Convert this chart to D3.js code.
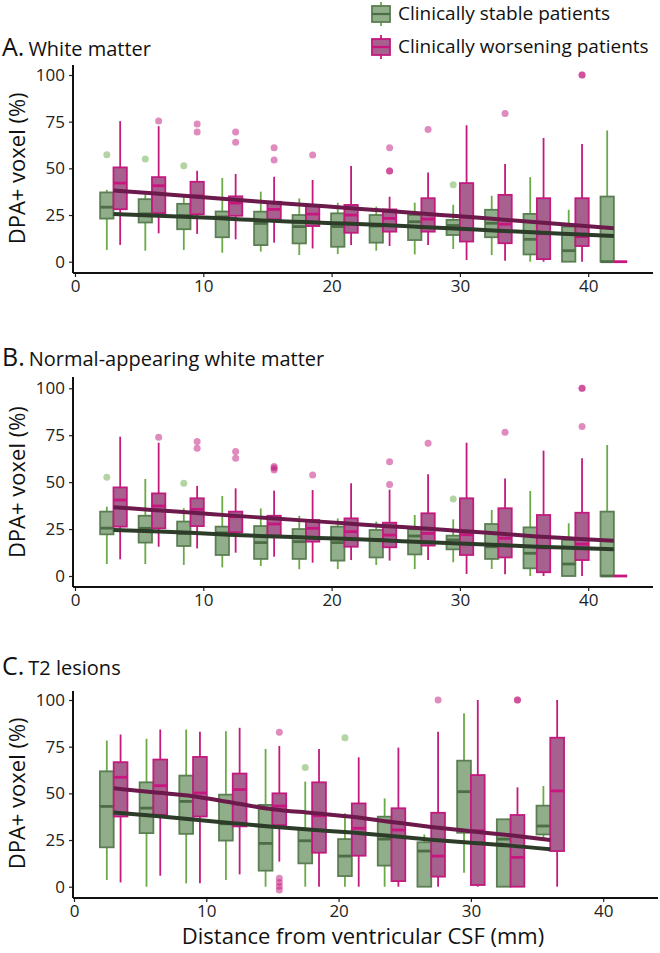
<!DOCTYPE html>
<html><head><meta charset="utf-8">
<script src="https://cdn.jsdelivr.net/npm/d3@7"></script>
<style>
body{margin:0;background:#fff}
svg{display:block;font-family:"Open Sans",sans-serif}
</style>
</head><body>
<svg id="chart" width="660" height="953"></svg>
<script>
// ---------------- DATA ----------------
const binsAB = [3,6,9,12,15,18,21,24,27,30,33,36,39,42];
const binsC  = [3,6,9,12,15,18,21,24,27,30,33,36];
const yTicks = [0,25,50,75,100];
const xTicks = [0,10,20,30,40];
const groupLabels = ["Clinically stable patients","Clinically worsening patients"];
const panelLetters = ["A.","B.","C."];
const panelTitles = ["White matter","Normal-appearing white matter","T2 lesions"];
const yTitle = "DPA+ voxel (%)";
const xTitle = "Distance from ventricular CSF (mm)";

// each entry: [lower whisker, Q1, median, Q3, upper whisker]
const wmStable = [
  [6.3,23.1,29.2,37.1,38.5],[5.9,21.0,25.6,33.5,36.0],[6.3,17.4,24.6,31.0,35.8],[4.8,13.1,24.0,26.9,44.8],
  [5.4,8.9,20.5,26.8,37.5],[3.6,9.8,18.8,25.0,33.9],[4.1,8.0,18.8,25.9,31.6],[5.9,10.2,19.1,25.0,29.5],
  [3.9,11.6,21.4,25.0,31.6],[6.8,14.3,19.4,22.4,30.5],[3.6,13.1,20.6,27.8,35.3],[0,3.9,12.0,25.6,45.3],
  [0,0,5.9,18.8,27.8],[0,0,0,34.9,70.3]];
const wmWorsen = [
  [9.0,28.1,42.1,50.5,75.3],[15.2,26.0,40.7,45.3,72.6],[14.9,25.4,35.3,42.8,48.7],[12.0,24.6,31.4,35.0,47.0],
  [10.2,22.7,28.0,32.1,45.5],[7.1,19.1,25.5,29.8,43.8],[8.9,15.5,25.0,30.4,51.3],[8.4,16.1,23.2,28.0,34.8],
  [9.0,16.1,22.8,34.0,47.8],[0.9,10.8,24.0,42.1,73.1],[0.5,9.9,20.1,35.8,52.3],[0,1.4,15.0,34.0,66.3],
  [0,8.4,13.4,34.0,63.1],[0,0,0,0,0]];
const wmStableOut = [[3,57.3],[6,55.0],[9,51.4],[30,41.2]];
const wmWorsenOut = [[6,75.3],[9,73.8],[9,69.5],[12,69.5],[12,64.0],[15,61.1],[15,54.5],[18,57.1],
  [24,61.1],[24,48.6],[24,48.6],[27,70.8],[33,79.4],[39,100],[39,100]];
const wmStableTrend = [25.6,24.8,24.0,23.0,22.0,21.2,20.4,19.6,18.6,17.6,16.6,15.6,14.7,13.8];
const wmWorsenTrend = [38.2,36.6,35.0,33.4,31.9,30.4,28.9,27.4,25.8,24.3,22.7,21.1,19.5,17.9];

const nawmStable = [
  [6.4,22.2,25.5,34.3,36.9],[6.4,17.8,25.4,32.1,51.7],[5.9,16.0,22.7,29.0,36.1],[4.6,11.2,23.0,26.3,42.6],
  [5.3,9.1,17.8,26.6,36.0],[3.6,9.1,18.3,25.0,32.1],[3.7,8.2,17.8,26.3,30.7],[5.9,9.9,19.5,24.5,29.0],
  [3.7,11.5,21.3,24.9,32.5],[7.3,14.2,19.2,21.5,30.2],[3.7,9.1,15.6,27.7,35.2],[0,4.1,12.1,25.9,45.3],
  [0,0,6.4,19.2,28.1],[0,0,0,34.3,69.8]];
const nawmWorsen = [
  [8.9,26.3,40.5,47.2,74.2],[15.6,25.4,37.3,44.0,71.0],[14.7,26.6,35.5,41.4,48.0],[12.4,23.3,31.6,34.3,46.7],
  [10.3,21.5,27.7,32.1,45.5],[7.1,18.3,25.4,29.8,45.8],[8.5,15.6,23.6,30.7,49.4],[8.2,15.3,21.8,28.4,46.0],
  [8.5,16.2,22.7,33.4,54.2],[1.1,11.2,22.0,41.4,71.0],[0.9,9.9,20.1,36.1,52.0],[0,2.0,15.0,32.5,66.8],
  [0,8.5,17.0,33.7,62.7],[0,0,0,0,0]];
const nawmStableOut = [[3,52.6],[9,49.4],[30,41.0]];
const nawmWorsenOut = [[6,73.9],[9,71.6],[9,68.0],[12,66.3],[12,62.7],[15,58.3],[15,56.5],[15,57.5],[18,53.8],
  [24,60.9],[24,48.8],[27,70.7],[33,76.6],[39,100],[39,100],[39,79.6]];
const nawmStableTrend = [24.5,23.8,23.0,22.0,21.2,20.5,19.8,19.0,18.1,17.3,16.5,15.6,14.9,14.2];
const nawmWorsenTrend = [36.6,35.2,33.8,32.3,30.9,29.5,28.1,26.7,25.4,24.0,22.6,21.1,19.9,18.8];

const t2Stable = [
  [3.6,21.1,43.0,61.8,78.3],[0,28.7,42.1,55.9,79.2],[1.8,28.3,45.7,59.5,84.2],[3.6,24.7,33.7,49.3,83.3],
  [0,8.6,23.2,43.8,73.8],[0,12.5,24.6,30.7,56.3],[0,5.7,16.4,25.5,39.3],[0,11.3,25.5,37.5,47.3],
  [0,0,19.1,23.8,28.0],[7.5,28.9,50.9,67.5,92.9],[0,0,25.5,36.1,36.1],[25.9,28.0,32.5,43.4,53.9]];
const t2Worsen = [
  [2.3,37.6,58.6,66.7,81.5],[5.9,38.5,54.1,68.1,84.2],[1.8,37.6,50.2,69.5,83.0],[6.6,32.3,52.0,60.6,85.1],
  [13.4,33.0,43.2,50.0,75.4],[0,18.2,38.0,55.9,73.8],[0,16.6,31.3,44.6,69.3],[0,3.0,30.4,42.0,74.5],
  [0,5.4,16.4,39.6,83.0],[0,0.9,30.0,59.8,100],[0,0,15.7,38.4,53.2],[0,19.1,51.3,79.8,100]];
const t2StableOut = [[18,63.8],[21,79.8]];
const t2WorsenOut = [[15,82.7],[15,4.5],[15,2.3],[15,0.2],[15,-1.8],[27,100],[33,100],[33,100]];
const t2StableTrend = [39.8,38.0,36.0,34.0,32.1,30.5,29.0,27.2,25.2,23.5,22.0,20.0];
const t2WorsenTrend = [52.7,50.6,48.5,45.0,41.5,39.5,37.5,34.7,32.0,29.7,27.5,25.0];

// ---------------- STYLE ----------------
const C = {
  stable: {fill:"#8fae89", stroke:"#5b7e53", whisker:"#6aab47", median:"#4d6d46", out:"#6aab47", trend:"#2c3c28"},
  worsen: {fill:"#a6618f", stroke:"#c21a7e", whisker:"#c21a7e", median:"#c8167f", out:"#c2187c", trend:"#6c1a4b"}
};
const BOX_W = 1.04, DODGE = 0.52;

const svg = d3.select("#chart");

function drawPanel(p) {
  const g = svg.append("g");
  const x = d3.scaleLinear().domain([0,40]).range(p.xr);
  const y = d3.scaleLinear().domain([0,100]).range(p.yr);

  // axes
  const ya = g.append("g").attr("transform",`translate(${p.axX},0)`)
    .call(d3.axisLeft(y).tickValues(yTicks).tickSize(4).tickPadding(4));
  ya.select(".domain").remove();
  ya.selectAll("text").attr("font-size",17).attr("fill","#222").attr("font-family","Open Sans");
  ya.selectAll("line").attr("stroke","#222").attr("stroke-width",1.2);
  const xa = g.append("g").attr("transform",`translate(0,${p.axY})`)
    .call(d3.axisBottom(x).tickValues(xTicks).tickSize(4).tickPadding(3));
  xa.select(".domain").remove();
  xa.selectAll("text").attr("font-size",17).attr("fill","#222").attr("font-family","Open Sans");
  xa.selectAll("line").attr("stroke","#222").attr("stroke-width",1.2);
  g.append("line").attr("x1",p.axX).attr("x2",p.axX).attr("y1",p.axTop).attr("y2",p.axY)
    .attr("stroke","#111").attr("stroke-width",2);
  g.append("line").attr("x1",p.axX).attr("x2",p.axRight).attr("y1",p.axY).attr("y2",p.axY)
    .attr("stroke","#111").attr("stroke-width",2);

  // y title
  g.append("text").attr("transform",`translate(25,${(p.yr[0]+p.yr[1])/2}) rotate(-90)`)
    .attr("text-anchor","middle").attr("font-size",22).attr("fill","#111").text(yTitle);

  // panel title
  const t = g.append("text").attr("x",2).attr("y",p.titleY).attr("fill","#111");
  t.append("tspan").attr("font-size",25).text(p.letter);
  t.append("tspan").attr("font-size",20).attr("dx",4).text(p.title);

  function series(data, bins, off, col) {
    const gg = g.append("g");
    data.forEach((d,i) => {
      const cx = bins[i] + off;
      gg.append("line").attr("x1",x(cx)).attr("x2",x(cx)).attr("y1",y(d[0])).attr("y2",y(d[4]))
        .attr("stroke",col.whisker).attr("stroke-width",1.8);
      gg.append("rect").attr("x",x(cx-BOX_W/2)).attr("width",x(cx+BOX_W/2)-x(cx-BOX_W/2))
        .attr("y",y(d[3])).attr("height",Math.max(0,y(d[1])-y(d[3])))
        .attr("fill",col.fill).attr("stroke",col.stroke).attr("stroke-width",1.8);
      gg.append("line").attr("x1",x(cx-BOX_W/2)).attr("x2",x(cx+BOX_W/2)).attr("y1",y(d[2])).attr("y2",y(d[2]))
        .attr("stroke",col.median).attr("stroke-width",2.8);
    });
  }
  function outliers(data, off, col) {
    g.append("g").selectAll("circle").data(data).join("circle")
      .attr("cx",d=>x(d[0]+off)).attr("cy",d=>y(d[1])).attr("r",3.5)
      .attr("fill",col.out).attr("fill-opacity",0.5);
  }
  function trend(vals, bins, col) {
    g.append("path").datum(vals.map((v,i)=>[bins[i],v]))
      .attr("d",d3.line().x(d=>x(d[0])).y(d=>y(d[1])).curve(d3.curveMonotoneX))
      .attr("fill","none").attr("stroke",col.trend).attr("stroke-width",4);
  }
  series(p.stable, p.bins, -DODGE, C.stable);
  series(p.worsen, p.bins, DODGE, C.worsen);
  outliers(p.stableOut, -DODGE, C.stable);
  outliers(p.worsenOut, DODGE, C.worsen);
  trend(p.worsenTrend, p.bins, C.worsen);
  trend(p.stableTrend, p.bins, C.stable);
}

drawPanel({letter:panelLetters[0], title:panelTitles[0], titleY:56, bins:binsAB,
  stable:wmStable, worsen:wmWorsen, stableOut:wmStableOut, worsenOut:wmWorsenOut,
  stableTrend:wmStableTrend, worsenTrend:wmWorsenTrend,
  xr:[75,588.2], yr:[261.7,75], axX:73, axY:273, axTop:65, axRight:653});
drawPanel({letter:panelLetters[1], title:panelTitles[1], titleY:366, bins:binsAB,
  stable:nawmStable, worsen:nawmWorsen, stableOut:nawmStableOut, worsenOut:nawmWorsenOut,
  stableTrend:nawmStableTrend, worsenTrend:nawmWorsenTrend,
  xr:[75,588.2], yr:[576,388.3], axX:73, axY:587, axTop:377, axRight:653});
drawPanel({letter:panelLetters[2], title:panelTitles[2], titleY:675, bins:binsC,
  stable:t2Stable, worsen:t2Worsen, stableOut:t2StableOut, worsenOut:t2WorsenOut,
  stableTrend:t2StableTrend, worsenTrend:t2WorsenTrend,
  xr:[74,603.2], yr:[886.7,700], axX:73, axY:898, axTop:691, axRight:658});

// x title
svg.append("text").attr("x",363).attr("y",944).attr("text-anchor","middle")
  .attr("font-size",22).attr("fill","#111").text(xTitle);

// legend
const lg = svg.append("g");
[C.stable, C.worsen].forEach((col,i) => {
  const top = i*33;
  lg.append("line").attr("x1",381).attr("x2",381).attr("y1",top+2).attr("y2",top+26)
    .attr("stroke",col.whisker).attr("stroke-width",1.8);
  lg.append("rect").attr("x",372).attr("y",top+6).attr("width",18).attr("height",16)
    .attr("fill",col.fill).attr("stroke",col.stroke).attr("stroke-width",1.8);
  lg.append("line").attr("x1",372).attr("x2",390).attr("y1",top+14).attr("y2",top+14)
    .attr("stroke",col.median).attr("stroke-width",2.2);
  lg.append("text").attr("x",398).attr("y",top+20).attr("font-size",19).attr("fill","#111")
    .text(groupLabels[i]);
});
</script>
</body></html>
